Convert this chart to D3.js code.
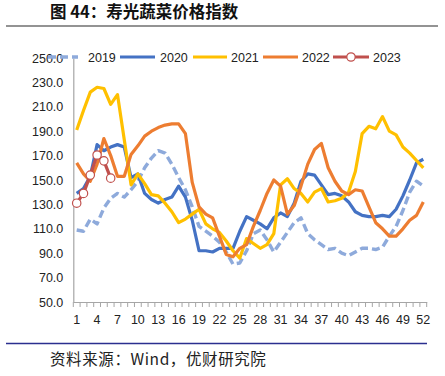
<!DOCTYPE html>
<html><head><meta charset="utf-8">
<script src="https://cdn.jsdelivr.net/npm/d3@7/dist/d3.min.js"></script>
<style>
html,body{margin:0;padding:0;background:#fff;}
svg{display:block;}
</style></head>
<body>
<svg id="c" width="445" height="376"></svg>
<script>
const weeks = d3.range(1, 53);
const xTickLabels = [1,4,7,10,13,16,19,22,25,28,31,34,37,40,43,46,49,52];
const yTicks = [50,70,90,110,130,150,170,190,210,230,250];
const seriesNames = ["2019","2020","2021","2022","2023"];

const v2019 = [109,108,118,114,127,135,139,136,142,149,160,168,174,172,163,152,142,128,112,108,104,99,91,81,82,92,106,109,101,91,99,107,115,119,106,101,97,93,94,90,88,91,94,94,93,95,104,112,125,140,149,145];
const v2020 = [139,143,153,179,174,177,179,177,152,155,139,134,131,134,136,145,136,117,92,92,91,94,94,94,108,120,117,114,110,119,123,120,131,149,155,154,146,138,139,137,132,124,121,120,120,121,120,126,137,150,164,167];
const v2021 = [191,207,222,226,225,212,220,183,146,155,147,138,137,131,124,115,118,122,126,114,110,107,100,92,86,102,98,94,97,106,146,151,143,139,132,140,143,132,133,135,140,157,188,194,192,202,190,187,177,172,166,160];
const v2022 = [164,155,149,163,184,170,153,153,171,178,186,190,193,195,196,196,188,148,128,122,119,104,89,87,94,97,112,125,139,150,145,122,129,145,163,175,180,160,149,141,138,142,141,128,115,110,104,104,110,117,121,132];
const v2023 = [131,139,154,170.5,165.7,151.5];

const colors = {"2019":"#8EAADB","2020":"#4472C4","2021":"#FFC000","2022":"#ED7D31","2023":"#C0504D"};
const data = {"2019":v2019,"2020":v2020,"2021":v2021,"2022":v2022,"2023":v2023};

const svg = d3.select("#c");
const L = 73.3, R = 426.7, T = 58, B = 302;

const x = d3.scaleBand().domain(weeks).range([L, R]).padding(0);
const xc = w => x(w) + x.bandwidth()/2;
const y = d3.scaleLinear().domain([50,250]).range([B, T]);

// title
svg.append("text").attr("x", 50).attr("y", 18)
  .attr("font-family", "'Noto Sans CJK SC', sans-serif").attr("font-weight", "bold")
  .attr("font-size", 16.5).attr("fill", "#111").text("图 44：寿光蔬菜价格指数");
svg.append("line").attr("x1", 6).attr("x2", 438).attr("y1", 26).attr("y2", 26)
  .attr("stroke", "#6f6f6f").attr("stroke-width", 1.5);

// axes
const fontAxis = "'Liberation Sans', Arial, sans-serif";
const yAxis = svg.append("g").attr("transform", `translate(${L},0)`)
  .call(d3.axisLeft(y).tickValues(yTicks).tickFormat(d3.format(".1f")).tickSize(0).tickPadding(10));
yAxis.select(".domain").attr("stroke", "#a6a6a6").attr("stroke-width", 1.2);
yAxis.selectAll("text").attr("font-family", fontAxis).attr("font-size", 12.5).attr("fill", "#222");

const xAxis = svg.append("g").attr("transform", `translate(0,${B})`)
  .call(d3.axisBottom(x).tickValues(xTickLabels).tickSize(0).tickPadding(13));
xAxis.select(".domain").attr("stroke", "#a6a6a6").attr("stroke-width", 1.2);
xAxis.selectAll("text").attr("font-family", fontAxis).attr("font-size", 12.5).attr("fill", "#222");
// boundary tick marks
const bounds = weeks.map(w => x(w)).concat([R]);
svg.append("g").selectAll("line").data(bounds).join("line")
  .attr("x1", d => d).attr("x2", d => d).attr("y1", B).attr("y2", B + 5)
  .attr("stroke", "#a6a6a6").attr("stroke-width", 1);

// lines
const line = d3.line().x((d, i) => xc(weeks[i])).y(d => y(d));
seriesNames.forEach(name => {
  const p = svg.append("path").datum(data[name]).attr("d", line)
    .attr("fill", "none").attr("stroke", colors[name]).attr("stroke-width", 3.2)
    .attr("stroke-linejoin", "round");
  if (name === "2019") p.attr("stroke-dasharray", "8,4").attr("stroke-width", 3.4);
});
svg.append("g").selectAll("circle").data(v2023).join("circle")
  .attr("cx", (d, i) => xc(weeks[i])).attr("cy", d => y(d)).attr("r", 4.2)
  .attr("fill", "#fff").attr("stroke", colors["2023"]).attr("stroke-width", 1.2);

// legend
const legendY = 57;
const legendItems = [
  {name:"2019", x1:48, x2:78, tx:88},
  {name:"2020", x1:120, x2:155, tx:160},
  {name:"2021", x1:193, x2:227, tx:231},
  {name:"2022", x1:263, x2:298, tx:302},
  {name:"2023", x1:333, x2:369, tx:373}
];
const lg = svg.append("g");
legendItems.forEach(it => {
  const ln = lg.append("line").attr("x1", it.x1).attr("x2", it.x2).attr("y1", legendY).attr("y2", legendY)
    .attr("stroke", colors[it.name]).attr("stroke-width", 3.2);
  if (it.name === "2019") ln.attr("stroke-dasharray", "8,4").attr("stroke-width", 3.4);
  if (it.name === "2023") lg.append("circle").attr("cx", (it.x1+it.x2)/2).attr("cy", legendY).attr("r", 4.2)
    .attr("fill", "#fff").attr("stroke", colors["2023"]).attr("stroke-width", 1.2);
  lg.append("text").attr("x", it.tx).attr("y", legendY + 4.5).attr("font-family", fontAxis)
    .attr("font-size", 12.5).attr("fill", "#222").text(it.name);
});

// bottom line + source
svg.append("line").attr("x1", 6).attr("x2", 427).attr("y1", 343.5).attr("y2", 343.5)
  .attr("stroke", "#2b2f8f").attr("stroke-width", 1.3);
svg.append("text").attr("x", 50).attr("y", 365)
  .attr("font-family", "'Noto Sans CJK SC', sans-serif").attr("font-size", 15.5)
  .attr("letter-spacing", 0.6)
  .attr("fill", "#222").text("资料来源：Wind，优财研究院");
</script>
</body></html>
